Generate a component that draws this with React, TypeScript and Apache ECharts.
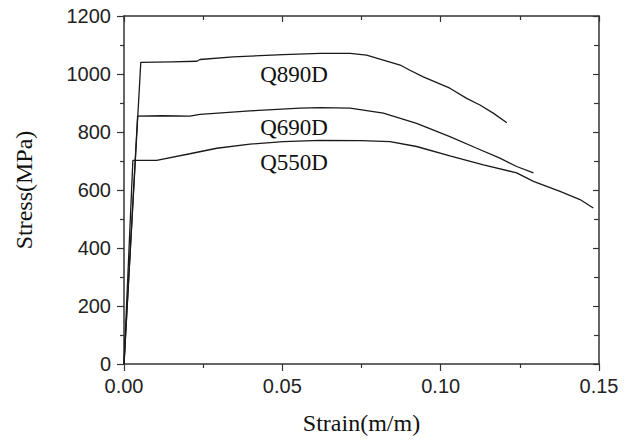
import React, { useEffect, useRef } from "react";
import * as echarts from "echarts";

const xTicks = { min: 0, max: 0.15, interval: 0.05 };
const yTicks = { min: 0, max: 1200, interval: 200 };

const q890Strain = [0, 0.0053, 0.015, 0.023, 0.024, 0.0345, 0.0503, 0.0619, 0.0714, 0.0766, 0.0819, 0.0872, 0.0903, 0.0945, 0.1029, 0.1082, 0.1124, 0.1166, 0.1209];
const q890Stress = [0, 1040, 1042, 1044, 1050, 1059, 1067, 1071, 1071, 1065, 1048, 1031, 1013, 990, 951, 916, 893, 865, 832];

const q690Strain = [0, 0.0043, 0.012, 0.0208, 0.024, 0.0398, 0.0556, 0.0619, 0.0714, 0.0819, 0.0924, 0.1029, 0.1114, 0.1187, 0.124, 0.1293];
const q690Stress = [0, 855, 856, 855, 861, 873, 882, 884, 882, 865, 830, 784, 744, 710, 681, 659];

const q550Strain = [0, 0.0028, 0.0103, 0.0208, 0.0293, 0.0398, 0.0503, 0.0619, 0.075, 0.084, 0.0924, 0.1029, 0.1135, 0.124, 0.1293, 0.1377, 0.144, 0.1482];
const q550Stress = [0, 702, 702, 725, 744, 758, 767, 771, 770, 767, 750, 718, 687, 659, 630, 595, 567, 538];

const seriesNames = ["Q890D", "Q690D", "Q550D"];

const zip = (xs: number[], ys: number[]) => xs.map((x, i) => [x, ys[i]]);

export default function App() {
  const ref = useRef<HTMLDivElement>(null);
  useEffect(() => {
    if (!ref.current) return;
    const chart = echarts.init(ref.current, null, { renderer: "svg" });
    const lineColor = "#1a1a1a";
    const axisColor = "#333";
    const serif = "'Liberation Serif', 'DejaVu Serif', serif";
    const sans = "'Liberation Sans', Arial, sans-serif";
    const data = [zip(q890Strain, q890Stress), zip(q690Strain, q690Stress), zip(q550Strain, q550Stress)];
    const tickStyle = { color: axisColor, width: 1.2 };
    chart.setOption({
      animation: false,
      backgroundColor: "#fff",
      grid: { left: 124, right: 36, top: 16, bottom: 75, containLabel: false },
      xAxis: [
        {
          type: "value",
          position: "bottom",
          min: xTicks.min,
          max: xTicks.max,
          interval: xTicks.interval,
          name: "Strain(m/m)",
          nameLocation: "middle",
          nameGap: 47,
          nameTextStyle: { fontFamily: serif, fontSize: 24, color: "#111" },
          axisLine: { show: true, onZero: false, lineStyle: { color: axisColor, width: 1.5 } },
          axisTick: { show: true, inside: false, length: 7, lineStyle: tickStyle },
          minorTick: { show: true, splitNumber: 2, length: 4, lineStyle: tickStyle },
          axisLabel: { fontFamily: sans, fontSize: 20, color: "#222", margin: 12, formatter: (v: number) => v.toFixed(2) },
          splitLine: { show: false },
        },
        {
          type: "value",
          position: "top",
          min: xTicks.min,
          max: xTicks.max,
          interval: xTicks.interval,
          axisLine: { show: true, onZero: false, lineStyle: { color: axisColor, width: 1.5 } },
          axisTick: { show: true, inside: true, length: 6, lineStyle: tickStyle },
          minorTick: { show: true, splitNumber: 2, length: 4, lineStyle: tickStyle },
          axisLabel: { show: false },
          splitLine: { show: false },
        },
      ],
      yAxis: [
        {
          type: "value",
          position: "left",
          min: yTicks.min,
          max: yTicks.max,
          interval: yTicks.interval,
          name: "Stress(MPa)",
          nameLocation: "middle",
          nameGap: 88,
          nameTextStyle: { fontFamily: serif, fontSize: 24, color: "#111" },
          axisLine: { show: true, onZero: false, lineStyle: { color: axisColor, width: 1.5 } },
          axisTick: { show: true, inside: false, length: 7, lineStyle: tickStyle },
          minorTick: { show: true, splitNumber: 2, length: 4, lineStyle: tickStyle },
          axisLabel: { fontFamily: sans, fontSize: 20, color: "#222", margin: 13, formatter: (v: number) => String(v) },
          splitLine: { show: false },
        },
        {
          type: "value",
          position: "right",
          min: yTicks.min,
          max: yTicks.max,
          interval: yTicks.interval,
          axisLine: { show: true, onZero: false, lineStyle: { color: axisColor, width: 1.5 } },
          axisTick: { show: true, inside: true, length: 6, lineStyle: tickStyle },
          minorTick: { show: true, splitNumber: 2, length: 5, lineStyle: tickStyle },
          axisLabel: { show: false },
          splitLine: { show: false },
        },
      ],
      series: data.map((d, i) => ({
        name: seriesNames[i],
        type: "line",
        xAxisIndex: 0,
        yAxisIndex: 0,
        data: d,
        showSymbol: false,
        symbol: "none",
        lineStyle: { color: lineColor, width: 1.3 },
      })),
      graphic: [
        { type: "text", x: 294, y: 74, style: { text: seriesNames[0], font: `23px ${serif}`, fill: "#111", textAlign: "center", textVerticalAlign: "middle" } },
        { type: "text", x: 294, y: 127, style: { text: seriesNames[1], font: `23px ${serif}`, fill: "#111", textAlign: "center", textVerticalAlign: "middle" } },
        { type: "text", x: 294, y: 162, style: { text: seriesNames[2], font: `23px ${serif}`, fill: "#111", textAlign: "center", textVerticalAlign: "middle" } },
      ],
    });
    return () => chart.dispose();
  }, []);
  return <div ref={ref} style={{ width: 635, height: 440, position: "absolute", left: 0, top: 0 }} />;
}
